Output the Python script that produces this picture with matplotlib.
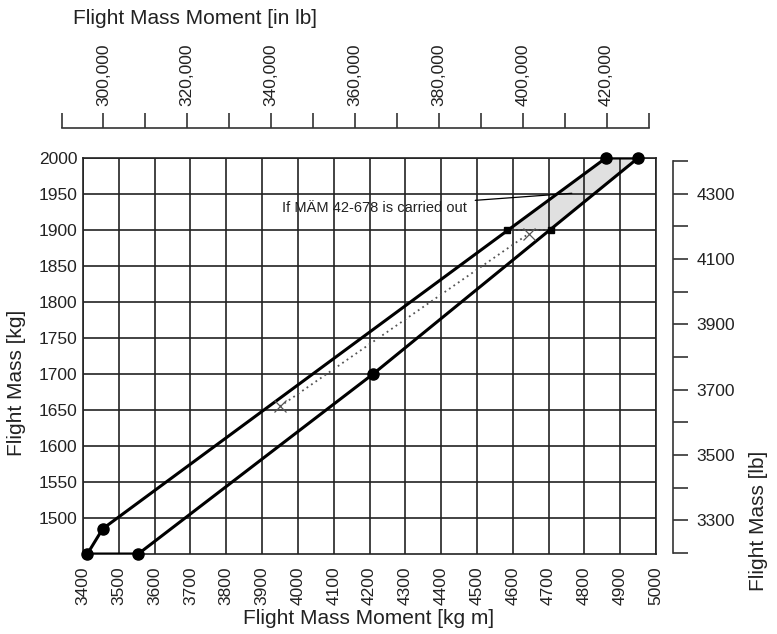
import matplotlib
matplotlib.use("Agg")
import matplotlib.pyplot as plt
from matplotlib.ticker import FixedLocator, FuncFormatter
import numpy as np

# ---------------- data ----------------
x_ticks = list(range(3400, 5001, 100))
y_ticks = list(range(1500, 2001, 50))
env_x = [3412, 3455, 4860, 4950, 4210, 3554, 3412]
env_y = [1450, 1485, 2000, 2000, 1700, 1450, 1450]
dot_x = [3412, 3455, 4860, 4950, 4210, 3554]
dot_y = [1450, 1485, 2000, 2000, 1700, 1450]
mod_x = [4585, 4707, 4950, 4860]
mod_y = [1900, 1900, 2000, 2000]
cg_x = [3950, 4645]
cg_y = [1655, 1895]
top_major = list(range(300000, 420001, 20000))
top_minor = list(range(290000, 430001, 20000))
lb_major = list(range(3300, 4301, 200))
lb_minor = list(range(3200, 4401, 200))
annot_text = "If MÄM 42-678 is carried out"

plt.rcParams['font.family'] = ['Liberation Sans', 'DejaVu Sans']
W, H = 777, 634
fig = plt.figure(figsize=(W / 100, H / 100), dpi=100)

def fx(px):
    return px / W

def fy(py):
    return 1 - py / H

L, R, T, B = 83, 656, 158, 554
ax = fig.add_axes([fx(L), fy(B), fx(R - L), (B - T) / H])
ax.set_xlim(3400, 5000)
ax.set_ylim(1450, 2000)
ax.set_xticks(x_ticks)
ax.set_yticks(y_ticks)
ax.tick_params(axis='both', length=0, labelsize=12.5, colors='#222')
ax.tick_params(axis='x', labelrotation=90, pad=9)
ax.tick_params(axis='y', pad=4)
ax.grid(True, color='#222222', lw=1.2)
for s in ax.spines.values():
    s.set_color('#222222')
    s.set_linewidth(1.2)

# shaded modification area
ax.fill(mod_x, mod_y, color='#e0e0e0', zorder=1, lw=0)
ax.plot(mod_x[:2], mod_y[:2], color='#333', ls=(0, (1, 1.5)), lw=1.3, zorder=3)
ax.plot(mod_x[:2], mod_y[:2], 's', color='black', ms=4, zorder=4)

# envelope
ax.plot(env_x, env_y, color='black', lw=2.2, zorder=3, solid_joinstyle='round')
ax.plot(dot_x, dot_y, 'o', color='black', ms=8, zorder=4, clip_on=False)

# CG line
ax.plot(cg_x, cg_y, color='#555', ls=(0, (1, 2)), lw=1.3, zorder=3)
ax.plot(cg_x, cg_y, 'x', color='#555', ms=8, mew=0.9, zorder=3)

# annotation
ax.annotate(annot_text, xy=(4765, 1951), xytext=(4472, 1931),
            ha='right', va='center', fontsize=10.5,
            family=['Liberation Sans Narrow', 'Liberation Sans'], color='#222',
            arrowprops=dict(arrowstyle='-', color='black', lw=0.9,
                            shrinkA=4, shrinkB=0))

# right axis in lb
axr = ax.twinx()
axr.set_ylim(1450 * 2.20462, 2000 * 2.20462)
for k in ['top', 'left', 'bottom']:
    axr.spines[k].set_visible(False)
axr.spines['right'].set_position(('outward', 12.2))
axr.spines['right'].set_bounds(3200, 4400)
axr.spines['right'].set_color('#333')
axr.spines['right'].set_linewidth(1.2)
axr.yaxis.set_major_locator(FixedLocator(lb_major))
axr.yaxis.set_minor_locator(FixedLocator(lb_minor))
axr.tick_params(axis='y', which='both', direction='out', length=10.8, width=1.2,
                color='#333', labelsize=12.5, labelcolor='#222', pad=6)

# top ruler in in-lb
axt = fig.add_axes([fx(61.5), fy(128) - 0.001, fx(587), 0.001])
axt.set_xlim(290000, 430000)
axt.patch.set_visible(False)
axt.set_yticks([])
for k in ['bottom', 'left', 'right']:
    axt.spines[k].set_visible(False)
axt.spines['top'].set_color('#333')
axt.spines['top'].set_linewidth(1.2)
axt.xaxis.tick_top()
axt.xaxis.set_major_locator(FixedLocator(top_major))
axt.xaxis.set_minor_locator(FixedLocator(top_minor))
axt.xaxis.set_major_formatter(FuncFormatter(lambda v, p: f"{int(v):,}"))
axt.tick_params(axis='x', which='both', direction='out', length=11, width=1.2,
                color='#333', labelsize=12.5, labelcolor='#222', pad=5,
                labelrotation=90)

# labels
fig.text(fx(73), fy(18), "Flight Mass Moment [in lb]", ha='left', va='center',
         fontsize=15, color='#222')
fig.text(fx(369), fy(618), "Flight Mass Moment [kg m]", ha='center', va='center',
         fontsize=15, color='#222')
fig.text(fx(17), fy(383), "Flight Mass [kg]", ha='center', va='center',
         rotation=90, fontsize=15, color='#222')
fig.text(fx(758), fy(521), "Flight Mass [lb]", ha='center', va='center',
         rotation=90, fontsize=15, color='#222')

fig.savefig("out.png", dpi=100)
